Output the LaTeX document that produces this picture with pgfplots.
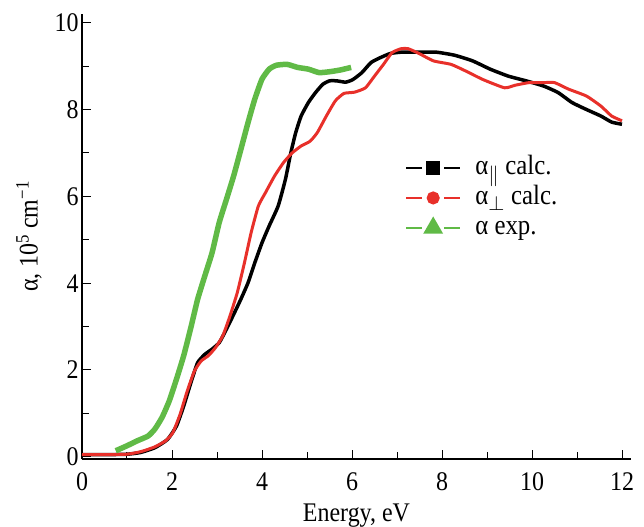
\documentclass[border=0pt]{standalone}
\usepackage{pgfplots}
\pgfplotsset{compat=1.18}
\usepackage{fontspec}
\setmainfont{Liberation Serif}[FakeStretch=0.89]
\definecolor{cred}{RGB}{232,48,42}
\definecolor{cgreen}{RGB}{96,186,70}
\begin{document}
\begin{tikzpicture}
\path[use as bounding box] (-82bp,-68bp) rectangle (562bp,459bp);
\begin{axis}[
  at={(0,0)}, anchor=south west,
  scale only axis, width=549bp, height=445bp,
  xmin=0, xmax=12.2, ymin=-0.05, ymax=10.2,
  axis x line*=bottom, axis y line*=left,
  axis line style={line width=1.2bp},
  xtick={0,2,...,12}, ytick={0,2,...,10},
  minor x tick num=1, minor y tick num=1,
  tick align=inside,
  major tick length=9bp, minor tick length=7bp,
  tick style={line width=1bp, black},
  /pgf/number format/assume math mode=true,
  ticklabel style={font=\fontsize{27}{30}\selectfont},
  label style={font=\fontsize{27}{30}\selectfont},
  xticklabel style={yshift=-10bp},
  xlabel={Energy, eV},
  ylabel={α, 10\textsuperscript{5} cm\textsuperscript{−1}},
  xlabel style={yshift=-6bp},
  ylabel style={yshift=6bp},
  legend style={at={(axis cs:7.12,7.05)}, anchor=north west, draw=none, fill=none,
    font=\fontsize{28}{30}\selectfont, row sep=0bp,
    nodes={font=\fontsize{28}{30}\selectfont, text height=19bp, text depth=6bp, inner sep=2.5bp},
    /tikz/every odd column/.append style={column sep=12bp}},
  legend cell align=left,
  legend image code/.code={
    \draw[#1,mark=none,line width=1.2bp] (0bp,0bp)--(16bp,0bp);
    \draw[#1,mark=none,line width=1.2bp] (38bp,0bp)--(54bp,0bp);
    \draw[#1,only marks,mark repeat=1,mark phase=1] plot coordinates {(27bp,0bp)};
  },
]
\addplot[black, line width=3.5bp, mark=square*, mark size=5bp, mark options={solid}, mark repeat=10000, mark phase=10000, smooth, tension=0.3] coordinates {
(0,0.05)(0.5,0.05)(1.0,0.06)(1.3,0.1)(1.62,0.21)(1.9,0.4)(2.1,0.71)(2.26,1.17)(2.42,1.71)(2.57,2.17)(2.73,2.36)(2.89,2.48)(3.05,2.63)(3.21,2.94)(3.37,3.28)(3.53,3.63)(3.69,4.01)(3.84,4.47)(4.0,4.93)(4.16,5.32)(4.36,5.78)(4.52,6.39)(4.64,7.0)(4.75,7.47)(4.87,7.85)(5.03,8.16)(5.19,8.39)(5.35,8.58)(5.5,8.66)(5.66,8.66)(5.86,8.63)(6.02,8.69)(6.22,8.85)(6.42,9.08)(6.62,9.19)(6.85,9.29)(7.09,9.32)(7.49,9.32)(7.88,9.32)(8.28,9.25)(8.68,9.12)(9.07,8.93)(9.47,8.77)(9.87,8.66)(10.26,8.54)(10.58,8.39)(10.89,8.16)(11.21,8.0)(11.53,7.85)(11.77,7.71)(12.0,7.66)
};
\addlegendentry{α$_{\|}$ calc.}
\addplot[cred, line width=3bp, mark=*, mark size=5bp, mark repeat=10000, mark phase=10000, smooth, tension=0.3] coordinates {
(0,0.05)(0.5,0.05)(1.0,0.06)(1.31,0.12)(1.62,0.23)(1.86,0.37)(2.02,0.56)(2.18,0.98)(2.34,1.52)(2.5,1.98)(2.65,2.21)(2.81,2.33)(2.97,2.52)(3.13,2.79)(3.29,3.25)(3.45,3.78)(3.61,4.47)(3.76,5.17)(3.92,5.78)(4.08,6.09)(4.28,6.47)(4.48,6.78)(4.67,7.0)(4.87,7.16)(5.07,7.27)(5.23,7.47)(5.43,7.85)(5.63,8.2)(5.82,8.37)(6.06,8.4)(6.3,8.5)(6.5,8.77)(6.7,9.04)(6.89,9.31)(7.09,9.4)(7.25,9.4)(7.49,9.29)(7.81,9.12)(8.2,9.04)(8.52,8.89)(8.91,8.69)(9.39,8.5)(9.63,8.56)(9.94,8.62)(10.26,8.62)(10.5,8.62)(10.81,8.47)(11.21,8.31)(11.53,8.08)(11.77,7.85)(12.0,7.74)
};
\addlegendentry{α$_{\perp}$ calc.}
\addplot[cgreen, line width=5.5bp, mark=triangle*, mark size=6bp, mark repeat=10000, mark phase=10000, smooth, tension=0.3] coordinates {
(0.75,0.14)(0.99,0.25)(1.23,0.37)(1.47,0.48)(1.62,0.64)(1.78,0.91)(1.94,1.29)(2.1,1.79)(2.26,2.33)(2.42,2.98)(2.57,3.63)(2.73,4.17)(2.89,4.7)(3.05,5.4)(3.21,5.93)(3.37,6.47)(3.53,7.08)(3.69,7.7)(3.84,8.24)(4.0,8.7)(4.16,8.93)(4.32,9.02)(4.56,9.04)(4.79,8.97)(5.03,8.93)(5.27,8.85)(5.5,8.87)(5.74,8.91)(5.98,8.97)
};
\addlegendentry{α exp.}
\end{axis}
\end{tikzpicture}
\end{document}
